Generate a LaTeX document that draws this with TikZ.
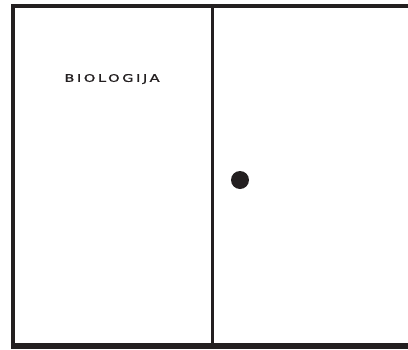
\documentclass[tikz,border=0pt]{standalone}
\usepackage{fontspec}
\setmainfont{DejaVu Sans}
\newfontfamily\widefont[LetterSpace=24,FakeStretch=1.4,FakeBold=1.2]{DejaVu Sans}
\usepackage{xcolor}
\definecolor{ink}{RGB}{35,31,32}
\usepackage{tikz}
\usetikzlibrary{positioning}

\begin{document}
\begin{tikzpicture}[
  x=1pt, y=-1pt,
  frame/.style={draw=ink, line width=4pt},
  label/.style={font=\widefont\fontsize{10.5}{11}\selectfont, text=ink, inner sep=0pt},
  marker/.style={circle, fill=ink, draw=none, minimum size=18pt, inner sep=0pt},
]
  \useasboundingbox (0,0) rectangle (408,349);

  %% Outer frame (open on the right)
  \coordinate (TL) at (13,6);
  \coordinate (TR) at (408,6);
  \coordinate (BL) at (13,346);
  \coordinate (BR) at (408,346);
  \draw[frame] (TR) -- (TL.center) -- ([yshift=-1pt]BL);
  \draw[draw=ink, line width=6pt] ([xshift=-2pt]BL) -- (BR);

  %% Divider
  \coordinate (DT) at (212.5,6);
  \coordinate (DB) at (212.5,346);
  \draw[draw=ink, line width=3pt] (DT) -- (DB);

  %% Label and marker
  \node[label] (bio) at (112,79) {BIOLOGIJA};
  \node[marker] (dot) at (240,180) {};
\end{tikzpicture}
\end{document}
